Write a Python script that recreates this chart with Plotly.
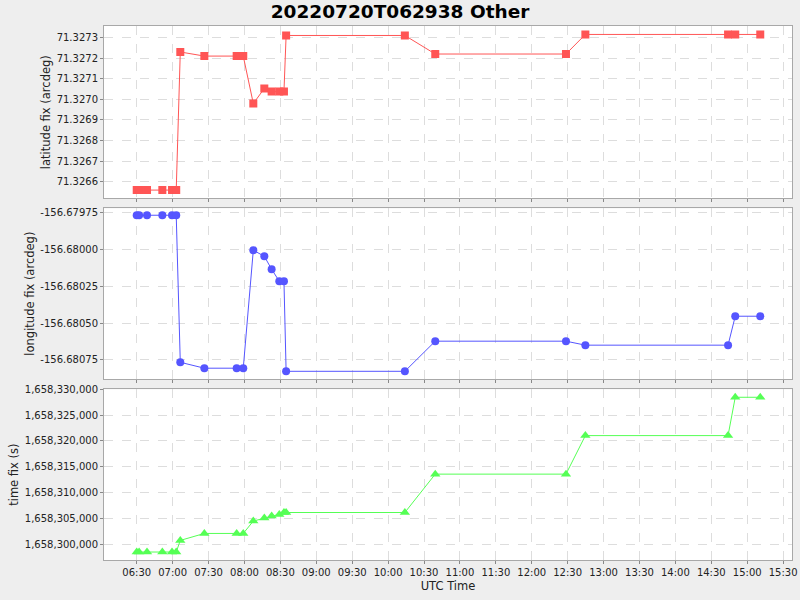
import plotly.graph_objects as go

DAY = "2022-07-20 "
times = ["06:30:00", "06:32:00", "06:38:36", "06:51:24", "06:59:30", "07:03:00",
         "07:06:24", "07:26:30", "07:53:30", "07:59:00", "08:07:24", "08:16:36",
         "08:22:42", "08:29:06", "08:33:00", "08:34:48", "10:14:00", "10:39:24",
         "12:28:36", "12:44:48", "14:44:00", "14:50:00", "15:10:54"]

latitude = [71.32656, 71.32656, 71.32656, 71.32656, 71.32656, 71.32656,
            71.32723, 71.32721, 71.32721, 71.32721, 71.32698, 71.327053,
            71.327038, 71.327038, 71.327038, 71.32731, 71.32731, 71.32722,
            71.32722, 71.327315, 71.327315, 71.327315, 71.327315]

longitude = [-156.67977, -156.67977, -156.67977, -156.67977, -156.67977, -156.67977,
             -156.680766, -156.680806, -156.680806, -156.680806, -156.680007, -156.680048,
             -156.680136, -156.680217, -156.680217, -156.680827, -156.680827, -156.680623,
             -156.680623, -156.68065, -156.68065, -156.680454, -156.680454]

time_fix = [1658298450, 1658298450, 1658298450, 1658298450, 1658298450, 1658298450,
            1658300700, 1658302050, 1658302050, 1658302050, 1658304450, 1658305030,
            1658305420, 1658305730, 1658306110, 1658306110, 1658306110, 1658313550,
            1658313550, 1658321020, 1658321020, 1658328450, 1658328450]

lat_ticks = [71.3266, 71.3267, 71.3268, 71.3269, 71.3270, 71.3271, 71.3272, 71.3273]
lat_labels = ["71.3266", "71.3267", "71.3268", "71.3269", "71.3270", "71.3271", "71.3272", "71.3273"]
lon_ticks = [-156.68075, -156.68050, -156.68025, -156.68000, -156.67975]
lon_labels = ["-156.68075", "-156.68050", "-156.68025", "-156.68000", "-156.67975"]
tf_ticks = [1658300000, 1658305000, 1658310000, 1658315000, 1658320000, 1658325000, 1658330000]
tf_labels = ["1,658,300,000", "1,658,305,000", "1,658,310,000", "1,658,315,000",
             "1,658,320,000", "1,658,325,000", "1,658,330,000"]

x = [DAY + t for t in times]

fig = go.Figure()
fig.add_trace(go.Scatter(x=x, y=latitude, mode="lines+markers", xaxis="x", yaxis="y",
                         line=dict(color="#FF5555", width=1),
                         marker=dict(symbol="square", size=8, color="#FF5555")))
fig.add_trace(go.Scatter(x=x, y=longitude, mode="lines+markers", xaxis="x2", yaxis="y2",
                         line=dict(color="#5555FF", width=1),
                         marker=dict(symbol="circle", size=8, color="#5555FF")))
fig.add_trace(go.Scatter(x=x, y=time_fix, mode="lines+markers", xaxis="x3", yaxis="y3",
                         line=dict(color="#55FF55", width=1),
                         marker=dict(symbol="triangle-up", size=9, color="#55FF55")))

xr = [DAY + "06:02:40", DAY + "15:37:25"]
grid = dict(showgrid=True, gridcolor="#DDDDDD", griddash="dash", gridwidth=1,
            showline=True, linecolor="#A8A8A8", linewidth=1, mirror=True,
            ticks="outside", ticklen=3, tickcolor="#888888",
            tickfont=dict(family="DejaVu Sans", size=10, color="#222222"),
            zeroline=False, automargin=False)

xcommon = dict(type="date", range=xr, dtick=30 * 60 * 1000, tick0=DAY + "06:00:00",
               tickformat="%H:%M", **grid)

tfont = dict(family="DejaVu Sans", size=11.5, color="#222222")

fig.update_layout(
    width=800, height=600,
    paper_bgcolor="#EEEEEE", plot_bgcolor="#FFFFFF",
    showlegend=False,
    margin=dict(l=104, r=8, t=26, b=40),
    title=dict(text="<b>20220720T062938 Other</b>", x=0.5, xanchor="center",
               y=0.98, yanchor="middle", yref="container",
               font=dict(family="DejaVu Sans", size=18.5, color="#000000")),
    xaxis=dict(domain=[0, 1], anchor="y", showticklabels=False, matches="x3", **xcommon),
    xaxis2=dict(domain=[0, 1], anchor="y2", showticklabels=False, matches="x3", **xcommon),
    xaxis3=dict(domain=[0, 1], anchor="y3",
                title=dict(text="UTC Time", font=tfont, standoff=4),
                **xcommon),
    yaxis=dict(domain=[0.6773, 1], range=[71.32652, 71.327356],
               tickvals=lat_ticks, ticktext=lat_labels,
               title=dict(text="latitude fix (arcdeg)", font=tfont, standoff=3),
               **grid),
    yaxis2=dict(domain=[0.339, 0.6586], range=[-156.680879, -156.679723],
                tickvals=lon_ticks, ticktext=lon_labels,
                title=dict(text="longitude fix (arcdeg)", font=tfont, standoff=3),
                **grid),
    yaxis3=dict(domain=[0, 0.3197], range=[1658296903, 1658330000],
                tickvals=tf_ticks, ticktext=tf_labels,
                title=dict(text="time fix (s)", font=tfont, standoff=3),
                **grid),
)

fig.write_html("out.html", config={"displayModeBar": False},
               post_script="document.body.style.margin='0px';document.body.style.overflow='hidden';")
